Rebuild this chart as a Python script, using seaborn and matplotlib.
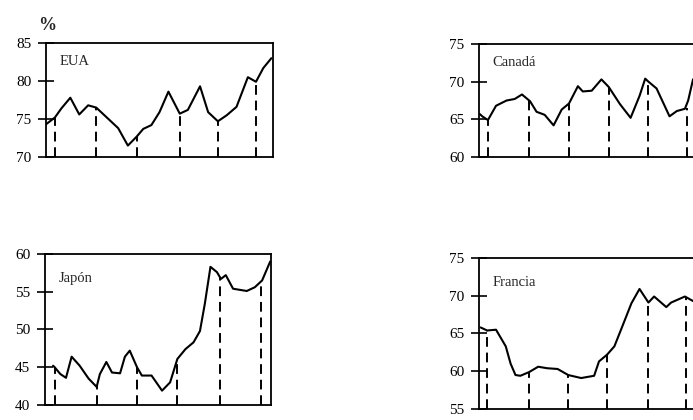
import matplotlib.pyplot as plt
import seaborn as sns
import pandas as pd

# EUA
eua_x = [0.0, 1.1, 1.9, 3.0, 4.1, 5.2, 6.2, 7.5, 8.9, 10.1, 11.2, 12.0, 13.0, 14.0, 15.1,
         16.5, 17.5, 19.0, 20.0, 21.2, 22.3, 23.5, 24.9, 25.9, 26.8, 27.8]
eua_y = [74.3, 75.2, 76.4, 77.8, 75.6, 76.8, 76.5, 75.2, 73.8, 71.5, 72.7, 73.7, 74.2, 75.9, 78.6,
         75.7, 76.2, 79.3, 75.9, 74.7, 75.5, 76.6, 80.5, 79.9, 81.7, 83.0]
eua_cut_x = [1.1, 6.2, 11.2, 16.5, 21.2, 25.9]
eua_cut_y = [75.2, 76.5, 72.7, 75.7, 74.7, 79.9]

# Canadá
can_x = [0.1, 0.4, 1.1, 2.1, 3.4, 4.4, 5.3, 6.3, 7.1, 8.1, 9.2, 10.2, 11.1, 12.2, 12.8, 13.9,
         15.1, 16.0, 17.4, 18.7, 19.8, 20.5, 20.9, 21.9, 23.5, 24.4, 25.4, 25.8, 26.4, 27.2]
can_y = [65.7, 65.4, 64.9, 66.8, 67.5, 67.7, 68.3, 67.4, 66.0, 65.6, 64.2, 66.3, 67.1, 69.4, 68.7, 68.8,
         70.3, 69.3, 67.0, 65.2, 68.1, 70.4, 70.0, 69.1, 65.4, 66.1, 66.4, 67.5, 70.3, 71.0]
can_cut_x = [1.1, 6.2, 11.1, 16.0, 20.8, 25.6]
can_cut_y = [64.9, 67.5, 67.1, 69.3, 70.1, 66.5]

# Japón
jap_x = [1.0, 1.2, 1.9, 2.6, 3.3, 4.3, 5.4, 6.4, 6.8, 7.6, 8.3, 9.3, 9.9, 10.5, 11.4, 12.0,
         13.2, 14.5, 15.5, 16.4, 17.4, 18.4, 19.2, 19.8, 20.5, 21.3, 21.8, 22.4, 23.3, 25.0,
         26.0, 26.9, 27.9]
jap_y = [45.2, 45.0, 44.1, 43.6, 46.4, 45.2, 43.5, 42.4, 44.1, 45.7, 44.3, 44.2, 46.4, 47.2, 45.0, 43.9,
         43.9, 41.9, 43.0, 46.1, 47.4, 48.3, 49.8, 53.4, 58.3, 57.6, 56.7, 57.2, 55.4, 55.1,
         55.6, 56.5, 59.0]
jap_cut_x = [1.2, 6.5, 11.4, 16.4, 21.7, 26.8]
jap_cut_y = [45.0, 42.5, 45.0, 46.1, 56.8, 56.2]

# Francia
fra_x = [0.2, 1.0, 2.1, 3.3, 3.9, 4.5, 5.1, 6.2, 7.3, 8.4, 9.7, 11.0, 12.6, 14.2, 14.8, 15.8,
         16.7, 17.7, 18.8, 19.8, 20.9, 21.6, 23.1, 23.7, 25.4, 26.4, 27.3]
fra_y = [65.8, 65.4, 65.5, 63.3, 61.0, 59.5, 59.4, 59.9, 60.6, 60.4, 60.3, 59.5, 59.1, 59.4, 61.3, 62.2,
         63.3, 66.0, 69.0, 70.9, 69.1, 69.9, 68.5, 69.1, 69.9, 69.3, 69.6]
fra_cut_x = [1.0, 6.2, 11.0, 15.8, 20.9, 25.5]
fra_cut_y = [65.4, 59.9, 59.5, 62.2, 69.1, 69.9]

panels = [
    ("EUA", eua_x, eua_y, eua_cut_x, eua_cut_y, (70, 85), [70, 75, 80, 85], (46, 43, 273, 157)),
    ("Canadá", can_x, can_y, can_cut_x, can_cut_y, (60, 75), [60, 65, 70, 75], (479, 44, 706, 157)),
    ("Japón", jap_x, jap_y, jap_cut_x, jap_cut_y, (40, 60), [40, 45, 50, 55, 60], (45, 254, 271, 405)),
    ("Francia", fra_x, fra_y, fra_cut_x, fra_cut_y, (55, 75), [55, 60, 65, 70, 75], (479, 258, 706, 409)),
]

sns.set_style("ticks")
plt.rcParams['font.family'] = ['Liberation Serif', 'DejaVu Serif']

W, H = 693, 420
fig = plt.figure(figsize=(W / 100, H / 100), dpi=100)
fig.patch.set_facecolor("white")

for name, x, y, cx, cy, ylim, yticks, (l, t, r, b) in panels:
    ax = fig.add_axes([l / W, 1 - b / H, (r - l) / W, (b - t) / H])
    df = pd.DataFrame({"t": x, "v": y})
    sns.lineplot(data=df, x="t", y="v", ax=ax, color="black", linewidth=1.5)
    ax.vlines(cx, ylim[0], cy, colors="black", linewidth=1.4, linestyles=(0, (5, 3)))
    ax.set_xlim(0, 28)
    ax.set_ylim(*ylim)
    ax.set_yticks(yticks)
    ax.set_xticks([])
    ax.set_xlabel("")
    ax.set_ylabel("")
    ax.tick_params(axis="y", direction="inout", length=11, width=1.2, labelsize=11, pad=5,
                   colors="black")
    for s in ax.spines.values():
        s.set_visible(True)
        s.set_linewidth(1.3)
        s.set_color("black")
    ax.set_facecolor("white")
    ax.text(0.06, 0.84, name, transform=ax.transAxes, fontsize=10.5, va="center", ha="left")

fig.text(38 / W, 1 - 25 / H, "%", fontsize=13, fontweight="bold", va="center", ha="left")

plt.savefig("out.png", dpi=100, facecolor="white")
